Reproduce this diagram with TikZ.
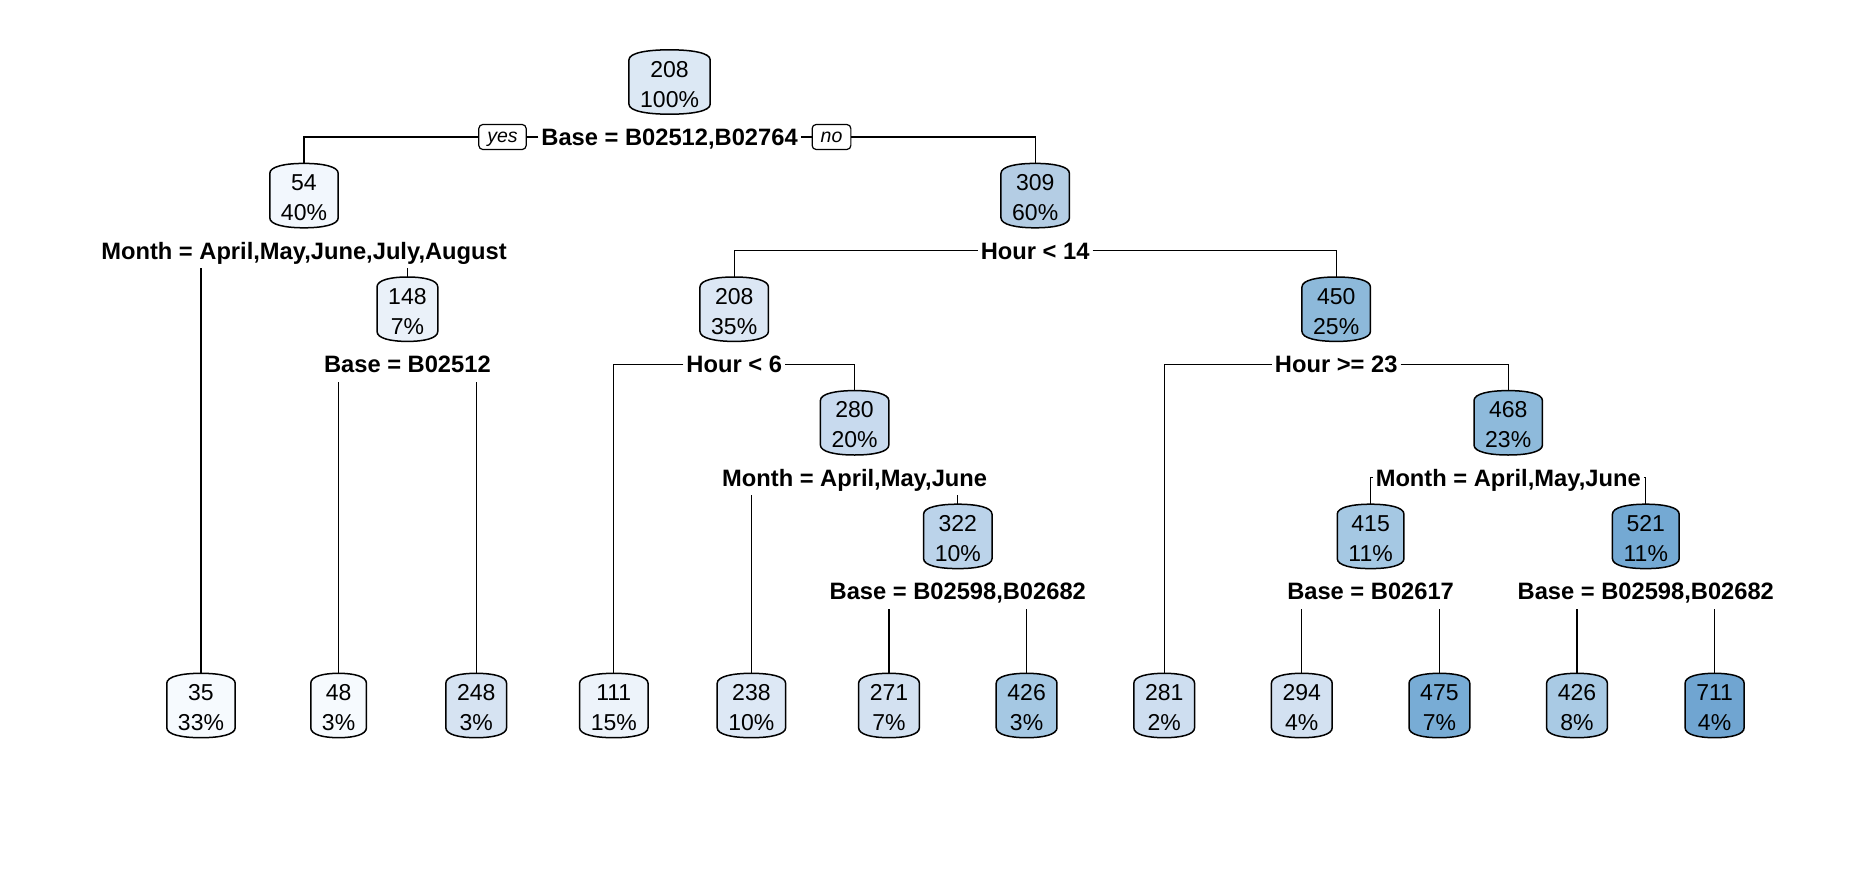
\documentclass[tikz,border=0pt]{standalone}
\usepackage{fontspec}
\setmainfont{Liberation Sans}
\usetikzlibrary{calc}
\pgfdeclarelayer{background}
\pgfsetlayers{background,main}
\definecolor{cr}{HTML}{DCE8F4}
\definecolor{ca}{HTML}{F2F7FD}
\definecolor{cb}{HTML}{B4CDE4}
\definecolor{cc}{HTML}{EAF1F9}
\definecolor{cd}{HTML}{DCE7F4}
\definecolor{ce}{HTML}{8DB9DA}
\definecolor{cf}{HTML}{C8DAEE}
\definecolor{cg}{HTML}{8EBADB}
\definecolor{ch}{HTML}{BBD3EA}
\definecolor{ci}{HTML}{A5C8E3}
\definecolor{cj}{HTML}{74A9D3}
\definecolor{cla}{HTML}{F6FAFE}
\definecolor{clb}{HTML}{F6FAFE}
\definecolor{clc}{HTML}{D6E3F2}
\definecolor{cld}{HTML}{EDF3FA}
\definecolor{cle}{HTML}{DDE8F5}
\definecolor{clf}{HTML}{D3E1F1}
\definecolor{clg}{HTML}{A5C8E3}
\definecolor{clh}{HTML}{CEDEF0}
\definecolor{cli}{HTML}{D3E1F1}
\definecolor{clj}{HTML}{78ACD5}
\definecolor{clk}{HTML}{A9CAE4}
\definecolor{cll}{HTML}{70A5D1}
\newcommand\tnode[5]{%
  \node[tn] (#1) at (#2,#3) {\rule{0pt}{20.5bp}#5};
  \begin{pgfonlayer}{background}
  \path[tshape,fill=#4] let \p1=(#1.north west), \p2=(#1.south east), \n1={0.5*(\x2-\x1)} in
    (\x2,\y1-10bp) -- (\x2,\y2+10bp)
    .. controls (\x2,\y2+3bp) and (\x2-0.45*\n1,\y2) .. (\x1+\n1,\y2)
    .. controls (\x1+0.45*\n1,\y2) and (\x1,\y2+3bp) .. (\x1,\y2+10bp)
    -- (\x1,\y1-10bp)
    .. controls (\x1,\y1-3bp) and (\x1+0.45*\n1,\y1) .. (\x1+\n1,\y1)
    .. controls (\x2-0.45*\n1,\y1) and (\x2,\y1-3bp) .. (\x2,\y1-10bp) -- cycle;
  \end{pgfonlayer}}
\begin{document}
\begin{tikzpicture}[x=1bp,y=-1bp,
  tn/.style={align=center, inner xsep=11bp, inner ysep=0pt, minimum height=64bp,
    font=\fontsize{23bp}{30bp}\selectfont},
  tshape/.style={draw=black, line width=1.5bp},
  lab/.style={font=\bfseries\fontsize{23.7bp}{28bp}\selectfont, text height=16.8bp,
    text depth=0pt, inner xsep=3bp, inner ysep=9bp},
  yn/.style={draw=black, line width=1.2bp, rounded corners=4bp, fill=white,
    font=\itshape\fontsize{19.5bp}{22bp}\selectfont, text height=10bp, text depth=0pt,
    inner xsep=8.5bp, minimum height=25bp},
  conn/.style={draw=black, line width=1.2bp}]
\begin{pgfonlayer}{background}
\fill[white] (0,0) rectangle (1859,894);
\end{pgfonlayer}
\useasboundingbox (0,0) rectangle (1859,894);

% internal nodes
\tnode{r}{669.6}{82}{cr}{208\\100\%}
\tnode{a}{304}{195.6}{ca}{54\\40\%}
\tnode{b}{1035.2}{195.6}{cb}{309\\60\%}
\tnode{c}{407.4}{309.2}{cc}{148\\7\%}
\tnode{d}{734.2}{309.2}{cd}{208\\35\%}
\tnode{e}{1336.2}{309.2}{ce}{450\\25\%}
\tnode{f}{854.6}{422.8}{cf}{280\\20\%}
\tnode{g}{1508.2}{422.8}{cg}{468\\23\%}
\tnode{h}{957.8}{536.4}{ch}{322\\10\%}
\tnode{i}{1370.6}{536.4}{ci}{415\\11\%}
\tnode{j}{1645.8}{536.4}{cj}{521\\11\%}

% leaves
\tnode{l1}{201}{705.5}{cla}{35\\33\%}
\tnode{l2}{338.6}{705.5}{clb}{48\\3\%}
\tnode{l3}{476.2}{705.5}{clc}{248\\3\%}
\tnode{l4}{613.8}{705.5}{cld}{111\\15\%}
\tnode{l5}{751.4}{705.5}{cle}{238\\10\%}
\tnode{l6}{889}{705.5}{clf}{271\\7\%}
\tnode{l7}{1026.6}{705.5}{clg}{426\\3\%}
\tnode{l8}{1164.2}{705.5}{clh}{281\\2\%}
\tnode{l9}{1301.8}{705.5}{cli}{294\\4\%}
\tnode{l10}{1439.4}{705.5}{clj}{475\\7\%}
\tnode{l11}{1577}{705.5}{clk}{426\\8\%}
\tnode{l12}{1714.6}{705.5}{cll}{711\\4\%}

% split labels
\node[lab] (L0) at (669.6,137) {Base = B02512,B02764};
\node[yn] (yes) at (502.5,137) {yes};
\node[yn] (no) at (831.5,137) {no};
\node[lab] (La) at (304,250.6) {Month = April,May,June,July,August};
\node[lab] (Lb) at (1035.2,250.6) {Hour < 14};
\node[lab] (Lc) at (407.4,364.2) {Base = B02512};
\node[lab] (Ld) at (734.2,364.2) {Hour < 6};
\node[lab] (Le) at (1336.2,364.2) {Hour >= 23};
\node[lab] (Lf) at (854.6,477.8) {Month = April,May,June};
\node[lab] (Lg) at (1508.2,477.8) {Month = April,May,June};
\node[lab] (Lh) at (957.8,591.4) {Base = B02598,B02682};
\node[lab] (Li) at (1370.6,591.4) {Base = B02617};
\node[lab] (Lj) at (1645.8,591.4) {Base = B02598,B02682};

% connectors
\draw[conn] (L0.west) -- (yes.east);
\draw[conn] (yes.west) -| (a.north);
\draw[conn] (L0.east) -- (no.west);
\draw[conn] (no.east) -| (b.north);
\draw[conn] (l1.north) -- (l1.north |- La.south);
\draw[conn] (c.north) -- (c.north |- La.south);
\draw[conn] (Lb.west) -| (d.north);
\draw[conn] (Lb.east) -| (e.north);
\draw[conn] (l2.north) -- (l2.north |- Lc.south);
\draw[conn] (l3.north) -- (l3.north |- Lc.south);
\draw[conn] (Ld.west) -| (l4.north);
\draw[conn] (Ld.east) -| (f.north);
\draw[conn] (Le.west) -| (l8.north);
\draw[conn] (Le.east) -| (g.north);
\draw[conn] (l5.north) -- (l5.north |- Lf.south);
\draw[conn] (h.north) -- (h.north |- Lf.south);
\draw[conn] (Lg.west) -| (i.north);
\draw[conn] (Lg.east) -| (j.north);
\draw[conn] (l6.north) -- (l6.north |- Lh.south);
\draw[conn] (l7.north) -- (l7.north |- Lh.south);
\draw[conn] (l9.north) -- (l9.north |- Li.south);
\draw[conn] (l10.north) -- (l10.north |- Li.south);
\draw[conn] (l11.north) -- (l11.north |- Lj.south);
\draw[conn] (l12.north) -- (l12.north |- Lj.south);
\end{tikzpicture}
\end{document}
